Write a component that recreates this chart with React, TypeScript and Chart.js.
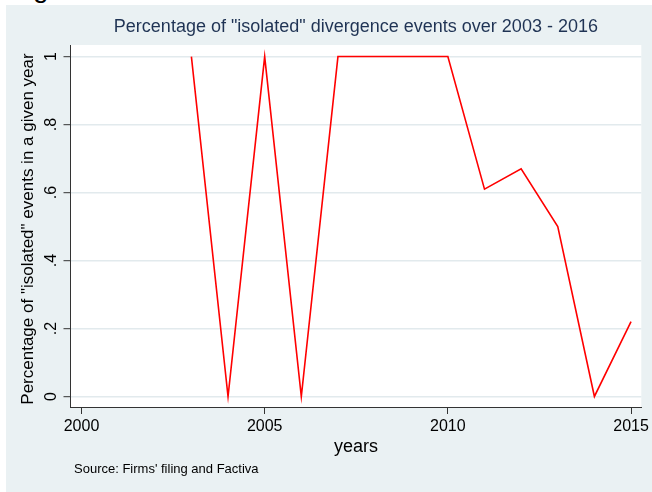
import React, { useEffect, useRef } from "react";
import { Chart, registerables } from "chart.js";

Chart.register(...registerables);

// ---- data ----
const years = [2003, 2004, 2005, 2006, 2007, 2008, 2009, 2010, 2011, 2012, 2013, 2014, 2015];
const isolatedShare = [1, 0, 1, 0, 1, 1, 1, 1, 0.61, 0.67, 0.5, 0, 0.22];
const xTickValues = [2000, 2005, 2010, 2015];
const yTickValues = [0, 0.2, 0.4, 0.6, 0.8, 1];
const yTickLabels = ["0", ".2", ".4", ".6", ".8", "1"];
const titleText = 'Percentage of "isolated" divergence events over 2003 - 2016';
const xAxisTitle = "years";
const yAxisTitle = 'Percentage of "isolated" events in a given year';
const sourceNote = "Source: Firms' filing and Factiva";

const FONT = '"Liberation Sans", Arial, Helvetica, sans-serif';
const BG = "#EAF1F3";
const GRID = "#E2EAED";
const AXIS = "#333333";
const TITLE_COLOR = "#1f3354";

const stataPlugin = {
  id: "stataLook",
  beforeDraw(chart: any) {
    const { ctx, width, height, chartArea: a } = chart;
    ctx.save();
    ctx.fillStyle = BG;
    ctx.fillRect(0, 0, width, height);
    ctx.fillStyle = "#FFFFFF";
    ctx.fillRect(a.left, a.top, a.right - a.left, a.bottom - a.top);
    ctx.restore();
  },
  afterDraw(chart: any) {
    const { ctx, chartArea: a } = chart;
    const ys = chart.scales.y;
    const cx = (a.left + a.right) / 2;
    const cy = (a.top + a.bottom) / 2;
    ctx.save();
    // title
    ctx.fillStyle = TITLE_COLOR;
    ctx.font = `18px ${FONT}`;
    ctx.textAlign = "center";
    ctx.textBaseline = "alphabetic";
    ctx.fillText(titleText, cx, 27);
    // y tick labels (rotated)
    ctx.fillStyle = "#000";
    ctx.font = `16px ${FONT}`;
    yTickValues.forEach((v, i) => {
      const py = ys.getPixelForValue(v);
      ctx.save();
      ctx.translate(50, py);
      ctx.rotate(-Math.PI / 2);
      ctx.textAlign = "center";
      ctx.textBaseline = "alphabetic";
      ctx.fillText(yTickLabels[i], 0, 0);
      ctx.restore();
    });
    // y axis title
    ctx.font = `17px ${FONT}`;
    ctx.save();
    ctx.translate(26.5, cy + 3);
    ctx.rotate(-Math.PI / 2);
    ctx.textAlign = "center";
    ctx.textBaseline = "alphabetic";
    ctx.fillText(yAxisTitle, 0, 0);
    ctx.restore();
    // x axis title
    ctx.font = `18px ${FONT}`;
    ctx.textAlign = "center";
    ctx.fillText(xAxisTitle, cx, 446.5);
    // source note
    ctx.font = `13px ${FONT}`;
    ctx.textAlign = "left";
    ctx.fillText(sourceNote, 68, 467.5);
    ctx.restore();
  },
};

export default function App() {
  const ref = useRef<HTMLCanvasElement>(null);
  useEffect(() => {
    const chart = new Chart(ref.current as HTMLCanvasElement, {
      type: "line",
      data: {
        datasets: [
          {
            data: years.map((x, i) => ({ x, y: isolatedShare[i] })),
            borderColor: "#FF0000",
            borderWidth: 1.6,
            pointRadius: 0,
            tension: 0,
            fill: false,
          },
        ],
      },
      options: {
        responsive: false,
        animation: false,
        devicePixelRatio: 1,
        layout: { padding: { top: 40, right: 9, left: 0, bottom: 0 } },
        plugins: { legend: { display: false }, tooltip: { enabled: false }, title: { display: false } },
        scales: {
          x: {
            type: "linear",
            min: 1999.7,
            max: 2015.28,
            afterBuildTicks: (s: any) => {
              s.ticks = xTickValues.map((v) => ({ value: v }));
            },
            afterFit: (s: any) => {
              s.height = 85;
            },
            ticks: {
              font: { family: FONT, size: 16 },
              color: "#000",
              padding: 3,
              maxRotation: 0,
              autoSkip: false,
              callback: (v: any) => String(v),
            },
            grid: {
              drawOnChartArea: false,
              drawTicks: true,
              tickLength: 7,
              tickColor: AXIS,
              tickWidth: 1,
            },
            border: { display: true, color: AXIS, width: 1 },
          },
          y: {
            type: "linear",
            min: -0.031,
            max: 1.034,
            afterBuildTicks: (s: any) => {
              s.ticks = yTickValues.map((v) => ({ value: v }));
            },
            afterFit: (s: any) => {
              s.width = 64.5;
            },
            ticks: { display: false },
            grid: {
              color: GRID,
              lineWidth: 1.4,
              drawTicks: true,
              tickLength: 7,
              tickColor: AXIS,
              tickWidth: 1,
            },
            border: { display: true, color: AXIS, width: 1 },
          },
        },
      },
      plugins: [stataPlugin],
    } as any);
    return () => chart.destroy();
  }, []);

  return (
    <div style={{ position: "absolute", left: 0, top: 0, width: 652, height: 492 }}>
      <div style={{ position: "absolute", left: 0, top: 0, width: 80, height: 5, overflow: "hidden" }}>
        <span
          style={{
            position: "absolute",
            left: 33,
            top: -25.6,
            fontFamily: FONT,
            fontSize: 28,
            lineHeight: "28px",
            color: "#000",
          }}
        >
          g
        </span>
      </div>
      <canvas ref={ref} width={646} height={487} style={{ position: "absolute", left: 6, top: 5 }} />
    </div>
  );
}
